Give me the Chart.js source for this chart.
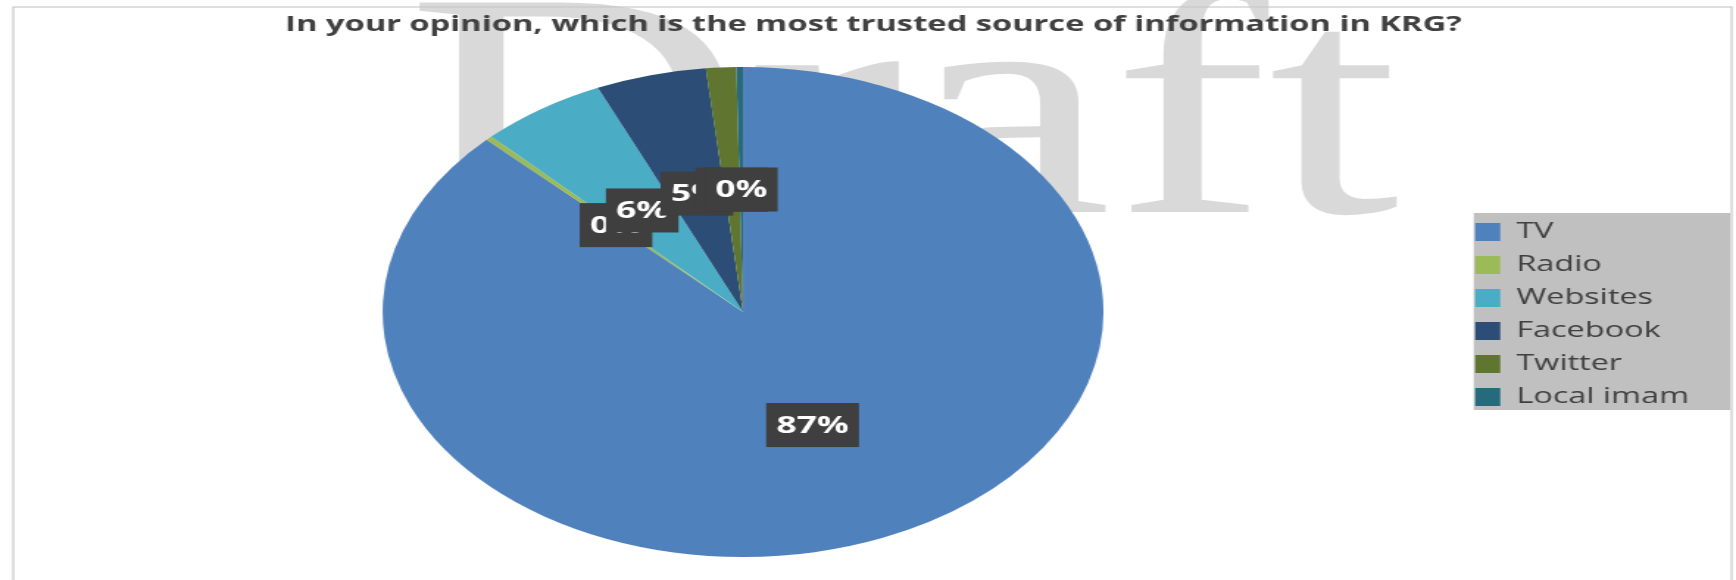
<!DOCTYPE html>
<html>
<head>
<meta charset="utf-8">
<script src="https://cdn.jsdelivr.net/npm/chart.js@4.4.0/dist/chart.umd.min.js"></script>
<style>
html,body{margin:0;padding:0;background:#ffffff;overflow:hidden}
#c{display:block}
</style>
</head>
<body>
<canvas id="c" width="1180" height="580" style="width:1736px;height:580px"></canvas>
<script>
// ---- data ----
const chartTitle = 'In your opinion, which is the most trusted source of information in KRG?';
const categories = ['TV', 'Radio', 'Websites', 'Facebook', 'Twitter', 'Local imam'];
const shares = [87.4, 0.3, 5.7, 4.95, 1.35, 0.3];
const sliceColors = ['#4f81bd', '#9bbb59', '#4bacc6', '#2c4d75', '#5f7530', '#276a7c'];
const watermarkText = 'Draft';

const FONT = "'Open Sans', sans-serif";

const decor = {
  id: 'decor',
  afterLayout(chart) {
    // fine placement of the title and legend blocks
    const t = chart.titleBlock;
    if (t) { t.left += 5.5; t.right += 5.5; }
    const lg = chart.legend;
    if (lg) { lg.top += 2.5; lg.bottom += 2.5; }
  },
  beforeDraw(chart) {
    const ctx = chart.ctx;
    ctx.save();
    ctx.fillStyle = '#ffffff';
    ctx.fillRect(0, 0, chart.width, chart.height);
    // watermark
    ctx.font = '320px "Liberation Serif"';
    ctx.fillStyle = '#d9d9d9';
    ctx.textAlign = 'left';
    ctx.textBaseline = 'alphabetic';
    ctx.fillText(watermarkText, 276, 212);
    // outer frame
    ctx.strokeStyle = '#c8c8c8';
    ctx.lineWidth = 1.2;
    ctx.strokeRect(9, 7, 1168, 640);
    // legend background
    const hb = chart.legend.legendHitBoxes;
    if (hb && hb.length) {
      const first = hb[0], last = hb[hb.length - 1];
      const x0 = first.left - 1, y0 = first.top - 8;
      ctx.fillStyle = '#c0c0c0';
      ctx.fillRect(x0, y0, 1176 - x0, last.top + last.height + 2 - y0);
    }
    ctx.restore();
  },
  afterDatasetsDraw(chart) {
    const ctx = chart.ctx;
    const meta = chart.getDatasetMeta(0);
    ctx.save();
    ctx.font = "bold 24px " + FONT;
    ctx.textAlign = 'center';
    ctx.textBaseline = 'middle';
    meta.data.forEach((arc, i) => {
      const p = arc.tooltipPosition();
      const txt = Math.round(shares[i]) + '%';
      const w = ctx.measureText(txt).width + 14, h = 44;
      ctx.fillStyle = '#3f3f3f';
      ctx.fillRect(p.x - w / 2, p.y - h / 2, w, h);
      ctx.fillStyle = '#ffffff';
      ctx.fillText(txt, p.x, p.y + 1);
    });
    ctx.restore();
  }
};

new Chart(document.getElementById('c'), {
  type: 'pie',
  data: {
    labels: categories,
    datasets: [{
      data: shares,
      backgroundColor: sliceColors,
      borderWidth: 0,
      hoverOffset: 0,
      offset: 0
    }]
  },
  options: {
    responsive: false,
    animation: false,
    devicePixelRatio: 1,
    events: [],
    layout: { padding: { left: 18.4, right: 22, top: 0, bottom: 23 } },
    plugins: {
      title: {
        display: true,
        text: chartTitle,
        color: '#404040',
        font: { family: FONT, size: 22.2, weight: 'bold', lineHeight: 1.2 },
        padding: { top: 11, bottom: 29.36 }
      },
      legend: {
        position: 'right',
        fullSize: false,
        align: 'center',
        labels: {
          boxWidth: 17,
          boxHeight: 18,
          padding: 11,
          color: '#404040',
          font: { family: FONT, size: 22 }
        }
      },
      tooltip: { enabled: false }
    }
  },
  plugins: [decor]
});
</script>
</body>
</html>
